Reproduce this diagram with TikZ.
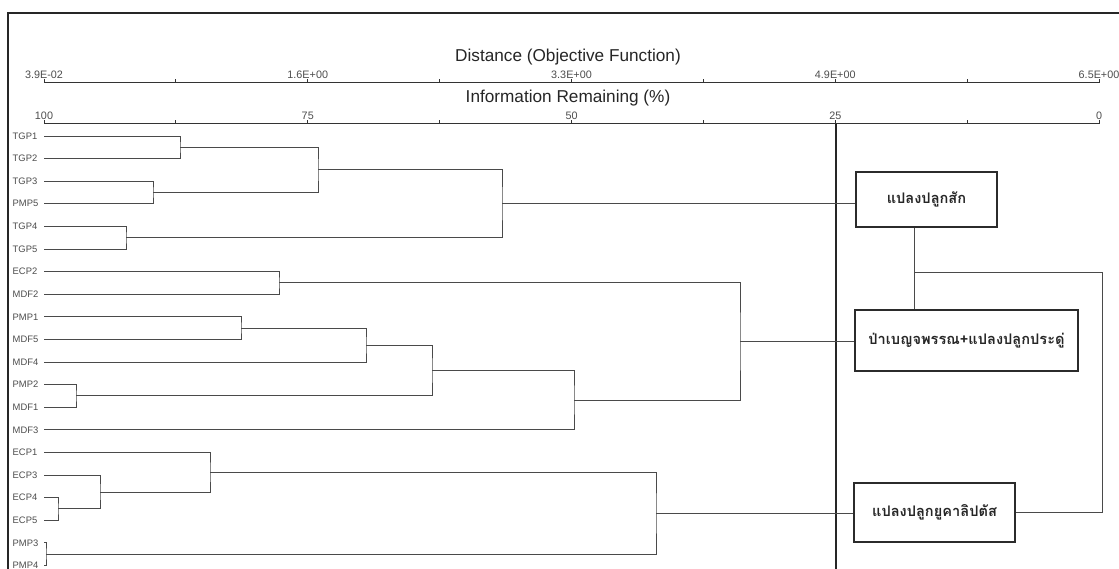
\documentclass[tikz,border=0pt]{standalone}
\usepackage{fontspec}
\setmainfont{Liberation Sans}
\newfontfamily\thaifont[Script=Thai]{Loma}
\definecolor{treecol}{HTML}{4A4A4A}
\definecolor{labcol}{HTML}{4D4D4D}
\definecolor{titlecol}{HTML}{262626}
\definecolor{boxcol}{HTML}{2B2B2B}
\begin{document}
\begin{tikzpicture}[x=1pt,y=-1pt,
  frameline/.style={line width=1.5pt,draw=black!85},
  axisline/.style={line width=1pt,draw=black!80},
  cutline/.style={line width=1.6pt,draw=black!85},
  tree/.style={line width=0.9pt,draw=treecol},
  leaflab/.style={font=\fontsize{9.4}{10}\selectfont,text=labcol,anchor=west,inner sep=0pt},
  ticklab/.style={font=\fontsize{10.8}{12}\selectfont,text=labcol,inner sep=0pt},
  axtitle/.style={font=\fontsize{17.2}{19}\selectfont,text=titlecol,inner sep=0pt},
  thaibox/.style={draw=boxcol,line width=1.8pt,fill=white,inner sep=0pt,
    font=\thaifont\bfseries\fontsize{14.6}{18}\selectfont,text=black!85},
  link/.style={line width=0.9pt,draw=treecol}]
\useasboundingbox (0,0) rectangle (1119,569);
\fill[white] (0,0) rectangle (1119,569);
% frame
\draw[frameline] (8,580) -- (8,13) -- (1130,13);
% axis titles
\node[axtitle] (dtitle) at (568,57) {Distance (Objective Function)};
\node[axtitle] (ititle) at (568,98) {Information Remaining (\%)};
% distance axis
\draw[axisline] (44,83) -- (1099,83);
\foreach \i in {0,...,8} \draw[axisline] ({44+131.875*\i},83) -- ++(0,-3.5);
\node[ticklab] (d1) at (44,74.5) {3.9E-02};
\node[ticklab] (d2) at (307.75,74.5) {1.6E+00};
\node[ticklab] (d3) at (571.5,74.5) {3.3E+00};
\node[ticklab] (d4) at (835.25,74.5) {4.9E+00};
\node[ticklab] (d5) at (1099,74.5) {6.5E+00};
% information axis
\draw[axisline] (44,124) -- (1099,124);
\foreach \i in {0,...,8} \draw[axisline] ({44+131.875*\i},124) -- ++(0,-3.5);
\node[ticklab] (i1) at (44,115.5) {100};
\node[ticklab] (i2) at (307.75,115.5) {75};
\node[ticklab] (i3) at (571.5,115.5) {50};
\node[ticklab] (i4) at (835.25,115.5) {25};
\node[ticklab] (i5) at (1099,115.5) {0};
% cut line at 25 %
\coordinate (cuttop) at (836,124);
\coordinate (cutbot) at (836,580);
\draw[cutline] (cuttop) -- (cutbot);
% leaves
\foreach \nm [count=\i] in {TGP1,TGP2,TGP3,PMP5,TGP4,TGP5,ECP2,MDF2,PMP1,MDF5,MDF4,PMP2,MDF1,MDF3,ECP1,ECP3,ECP4,ECP5,PMP3,PMP4}{
  \pgfmathsetmacro\yy{136+22.6*(\i-1)}
  \coordinate (l\i) at (44,\yy);
  \node[leaflab] (t\i) at (12.5,\yy) {\nm};
}
% merge points
\coordinate (m1) at (180,147.3);
\coordinate (m2) at (153,192.5);
\coordinate (m3) at (318,169.9);
\coordinate (m4) at (126,237.7);
\coordinate (m5) at (502,203.8);
\coordinate (m6) at (279,282.9);
\coordinate (m7) at (241,328.1);
\coordinate (m8) at (366,345.05);
\coordinate (m9) at (76,395.9);
\coordinate (m10) at (432,370.475);
\coordinate (m11) at (574,400.14);
\coordinate (m12) at (740,341.52);
\coordinate (m13) at (58,508.9);
\coordinate (m14) at (100,491.95);
\coordinate (m15) at (210,472.17);
\coordinate (m16) at (46,554.1);
\coordinate (m17) at (656,513.14);
% tree
\draw[tree] (l1) -| (m1) |- (l2);
\draw[tree] (l3) -| (m2) |- (l4);
\draw[tree] (m1) -| (m3) |- (m2);
\draw[tree] (l5) -| (m4) |- (l6);
\draw[tree] (m3) -| (m5) |- (m4);
\draw[tree] (l7) -| (m6) |- (l8);
\draw[tree] (l9) -| (m7) |- (l10);
\draw[tree] (m7) -| (m8) |- (l11);
\draw[tree] (l12) -| (m9) |- (l13);
\draw[tree] (m8) -| (m10) |- (m9);
\draw[tree] (m10) -| (m11) |- (l14);
\draw[tree] (m6) -| (m12) |- (m11);
\draw[tree] (l17) -| (m13) |- (l18);
\draw[tree] (l16) -| (m14) |- (m13);
\draw[tree] (l15) -| (m15) |- (m14);
\draw[tree] (l19) -| (m16) |- (l20);
\draw[tree] (m15) -| (m17) |- (m16);
% boxes
\node[thaibox,minimum width=141,minimum height=55] (box1) at (926.5,199.5) {แปลงปลูกสัก};
\node[thaibox,minimum width=223,minimum height=61] (box2) at (966.5,340.5) {ป่าเบญจพรรณ+แปลงปลูกประดู่};
\node[thaibox,minimum width=161,minimum height=59] (box3) at (934.5,512.5) {แปลงปลูกยูคาลิปตัส};
% connectors to boxes
\draw[link] (m5) -- (m5 -| box1.west);
\draw[link] (m12) -- (m12 -| box2.west);
\draw[link] (m17) -- (m17 -| box3.west);
\coordinate (j1) at (914,272);
\coordinate (j2) at (1102,272);
\draw[link] (box1.south -| j1) -- (box2.north -| j1);
\draw[link] (j1) -- (j2) |- (box3.east);
\end{tikzpicture}
\end{document}
